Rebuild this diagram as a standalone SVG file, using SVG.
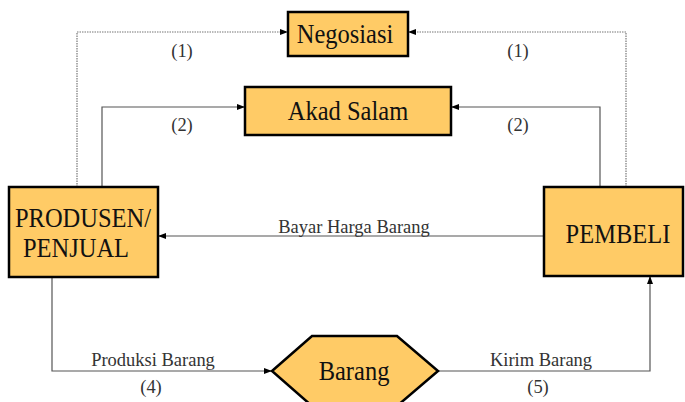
<svg xmlns="http://www.w3.org/2000/svg" width="685" height="402" viewBox="0 0 685 402">
  <style>
    .box { fill: #FFCB66; stroke: #000; stroke-width: 2.5; }
    .lbl { font-family: "Liberation Serif", "Times New Roman", serif; fill: #111; }
    .big { font-size: 24.5px; text-anchor: middle; }
    .small { font-size: 18.5px; text-anchor: middle; fill: #333; }
    .conn { fill: none; stroke: #555; stroke-width: 1.2; }
    .dot { stroke-dasharray: 1.5 1; stroke: #777; }
  </style>
  <defs>
    <marker id="arr" viewBox="0 0 8 8" refX="8" refY="4" markerWidth="8" markerHeight="8" markerUnits="userSpaceOnUse" orient="auto">
      <path d="M0,1 L8,4 L0,7 Z" fill="#000"/>
    </marker>
  </defs>
  <rect width="685" height="402" fill="#fff"/>

  <g id="connectors">
    <!-- (1) negotiation, dotted -->
    <polyline class="conn dot" points="77,187 77,32 288,32" marker-end="url(#arr)"/>
    <polyline class="conn dot" points="626,187 626,32 408,32" marker-end="url(#arr)"/>
    <!-- (2) salam contract -->
    <polyline class="conn" points="102,187 102,107 245,107" marker-end="url(#arr)"/>
    <polyline class="conn" points="600,187 600,107 451,107" marker-end="url(#arr)"/>
    <!-- payment -->
    <line class="conn" x1="544" y1="236" x2="158" y2="236" marker-end="url(#arr)"/>
    <!-- (4) production -->
    <polyline class="conn" points="52,277 52,371 272,371" marker-end="url(#arr)"/>
    <!-- (5) delivery -->
    <polyline class="conn" points="438,371 650,371 650,276" marker-end="url(#arr)"/>

    <g class="lbl small">
      <text transform="translate(182,57) scale(1,1.07)">(1)</text>
      <text transform="translate(518,57) scale(1,1.07)">(1)</text>
      <text transform="translate(182,131) scale(1,1.07)">(2)</text>
      <text transform="translate(518,131) scale(1,1.07)">(2)</text>
      <text transform="translate(354,233) scale(1,1.07)">Bayar Harga Barang</text>
      <text transform="translate(153,366) scale(1,1.07)">Produksi Barang</text>
      <text transform="translate(151,393) scale(1,1.07)">(4)</text>
      <text transform="translate(541,366) scale(1,1.07)">Kirim Barang</text>
      <text transform="translate(538,393) scale(1,1.07)">(5)</text>
    </g>
  </g>

  <g id="negosiasi">
    <rect class="box" x="288" y="12" width="120" height="44"/>
    <text class="lbl big" transform="translate(345,43) scale(1,1.1)">Negosiasi</text>
  </g>

  <g id="akad-salam">
    <rect class="box" x="245" y="87" width="206" height="48"/>
    <text class="lbl big" transform="translate(348,120) scale(1,1.1)">Akad Salam</text>
  </g>

  <g id="produsen">
    <rect class="box" x="9" y="187" width="149" height="90"/>
    <text class="lbl big" transform="translate(83,227) scale(1,1.1)">PRODUSEN/</text>
    <text class="lbl big" transform="translate(76,257) scale(1,1.1)">PENJUAL</text>
  </g>

  <g id="pembeli">
    <rect class="box" x="544" y="187" width="139" height="89"/>
    <text class="lbl big" transform="translate(618,243) scale(1,1.1)">PEMBELI</text>
  </g>

  <g id="barang">
    <polygon class="box" points="272,371 312,336 397,336 438,371 397,406 312,406"/>
    <text class="lbl big" transform="translate(354,380) scale(1,1.1)">Barang</text>
  </g>
</svg>
